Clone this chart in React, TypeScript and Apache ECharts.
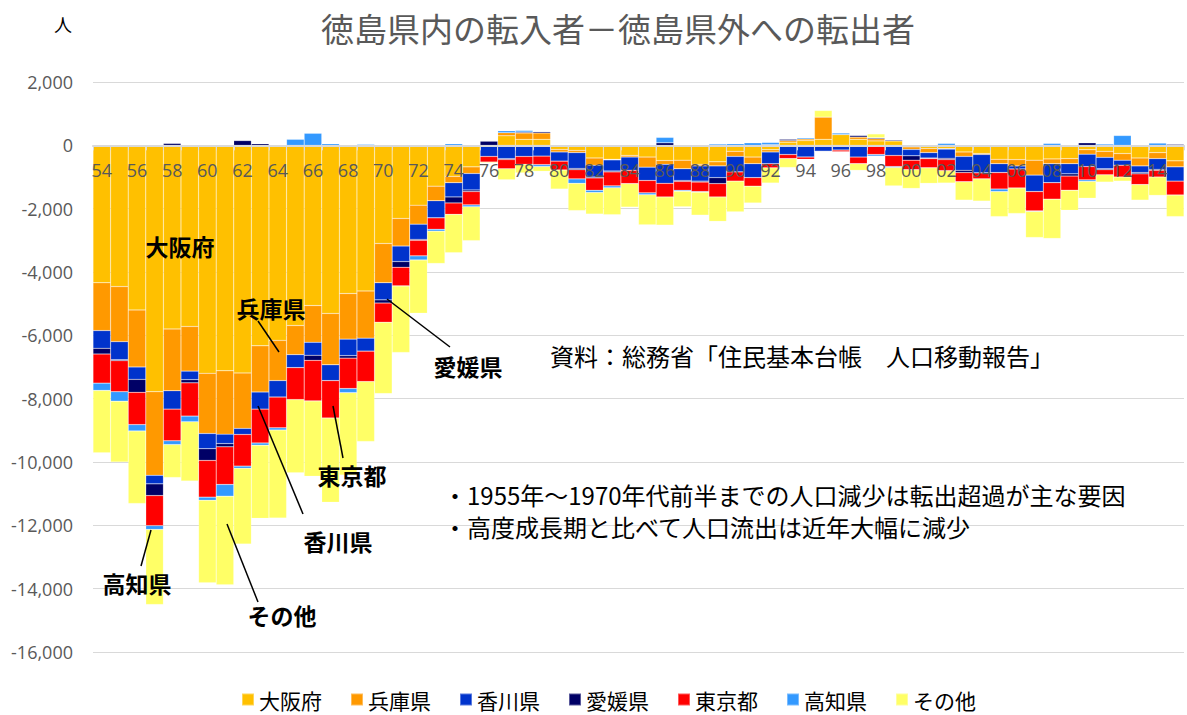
import React, { useEffect, useRef } from "react";
import * as echarts from "echarts";

const years = [
  "54","55","56","57","58","59","60","61","62","63","64","65","66","67","68","69",
  "70","71","72","73","74","75","76","77","78","79","80","81","82","83","84","85",
  "86","87","88","89","90","91","92","93","94","95","96","97","98","99","00","01",
  "02","03","04","05","06","07","08","09","10","11","12","13","14","15",
];

const osaka = [
  -4340,-4460,-5200,-7780,-5800,-5720,-7200,-7120,-7190,-6330,-6160,-5690,-5060,-5310,-4680,-4600,
  -3100,-2310,-1890,-1290,-980,-680,0,300,190,190,-130,-160,-400,-440,-320,-370,
  -480,-470,-600,-520,-190,-370,-140,100,150,190,340,190,140,140,-50,-100,
  -100,-210,-260,-440,-450,-470,-430,-420,-140,-190,-260,-400,-230,-490,
];
const hyogo = [
  -1510,-1740,-1800,-2640,-1950,-1410,-1900,-2000,-1750,-1460,-1270,-920,-1160,-1620,-1440,-1490,
  -1240,-870,-600,-460,-200,-210,0,100,200,200,-80,-70,-230,-20,-50,-320,
  -120,-270,-50,-130,-160,-210,-70,50,50,700,0,70,70,0,-80,-130,
  -20,-140,-30,-140,-200,-470,-150,-160,-140,-190,-210,-250,-190,-190,
];
const kagawa = [
  -560,-570,-390,-270,-580,-270,-480,-300,-190,-540,-520,-410,-410,-500,-520,-410,
  -540,-490,-480,-540,-450,-520,-350,-420,-350,-340,-290,-500,-370,-350,-420,-420,
  -600,-370,-480,-370,-490,-440,-370,-290,-370,-190,-150,-370,0,-320,-200,-170,
  -290,-440,-580,-280,-100,-520,-600,-320,-390,-360,-160,-210,-340,-450,
];
const ehime = [
  -180,-30,-410,-370,60,-100,-370,-100,150,50,0,0,-160,0,-80,0,
  -100,-180,-30,0,-190,-50,130,-30,30,40,0,-40,-30,-30,0,0,
  80,-30,-30,-190,0,0,20,40,0,0,0,50,30,30,-140,-20,
  -40,-70,0,0,0,0,0,-70,80,-30,0,-40,-30,30,
];
const tokyo = [
  -920,-980,-1020,-950,-1000,-1050,-1160,-1190,-1000,-1070,-970,-1010,-1280,-1180,-960,-960,
  -610,-590,-490,-360,-360,-420,-180,-290,-250,-270,-280,-290,-390,-440,-420,-390,
  -430,-280,-300,-420,-290,-270,-130,-130,-70,0,-50,-210,-290,-350,-300,-290,
  -350,-290,-190,-520,-600,-610,-520,-450,-420,-160,-370,-340,-210,-440,
];
const kochi = [
  -230,-300,-200,-120,-120,-180,-100,-370,-70,-70,-70,190,380,50,-130,30,
  0,0,-130,-60,50,-60,0,60,50,-60,0,-140,-70,-60,0,-60,
  170,-30,-20,40,50,80,70,0,40,0,50,0,-50,-30,0,0,
  60,0,0,-80,0,-20,60,0,-50,40,310,0,70,0,
];
const others = [
  -1970,-1920,-2290,-2370,-1040,-1870,-2600,-2800,-2390,-2310,-2780,-2310,-2380,-2660,-2600,-1890,
  -2250,-2100,-1680,-1020,-1210,-1070,-30,-350,-270,-150,-600,-860,-680,-850,-740,-950,
  -890,-490,-725,-770,-970,-530,-480,-280,0,210,0,-210,120,-580,-590,-490,
  -390,-580,-700,-790,-800,-820,-1240,-630,-530,-230,-130,-490,-580,-680,
];

const seriesNames = ["大阪府", "兵庫県", "香川県", "愛媛県", "東京都", "高知県", "その他"];
const seriesData = [osaka, hyogo, kagawa, ehime, tokyo, kochi, others];
const seriesColors = ["#FFC000", "#FF9900", "#0033CC", "#000066", "#FF0000", "#3399FF", "#FFFF66"];

const titleText = "徳島県内の転入者－徳島県外への転出者";
const sourceText = "資料：総務省「住民基本台帳　人口移動報告」";
const note1 = "・1955年～1970年代前半までの人口減少は転出超過が主な要因";
const note2 = "・高度成長期と比べて人口流出は近年大幅に減少";

const JP = '"Noto Sans CJK JP", "Noto Sans", sans-serif';
const NUM = '"Open Sans", "Noto Sans", sans-serif';

export default function App() {
  const ref = useRef<HTMLDivElement>(null);
  useEffect(() => {
    if (!ref.current) return;
    const chart = echarts.init(ref.current, undefined, { renderer: "svg" });

    const labels = [
      { t: "大阪府", x: 180, y: 246 },
      { t: "兵庫県", x: 271, y: 308 },
      { t: "愛媛県", x: 468, y: 366 },
      { t: "東京都", x: 352, y: 475 },
      { t: "香川県", x: 338, y: 541 },
      { t: "高知県", x: 137, y: 583 },
      { t: "その他", x: 282, y: 615 },
    ];
    const leaders = [
      [258, 321, 279, 352],
      [387, 299, 450, 347],
      [333, 406, 343, 458],
      [258, 406, 303, 514],
      [151, 530, 141, 566],
      [227, 524, 258, 602],
    ];

    const graphic: any[] = [];
    graphic.push({
      type: "text",
      left: 54,
      top: 15,
      style: { text: "人", fontSize: 18, fill: "#000", fontFamily: JP },
      z: 100,
    });
    labels.forEach((l) =>
      graphic.push({
        type: "text",
        x: l.x,
        y: l.y,
        style: {
          text: l.t,
          fontSize: 23,
          fontWeight: "bold",
          fill: "#000",
          fontFamily: JP,
          align: "center",
          verticalAlign: "middle",
        },
        z: 100,
      })
    );
    leaders.forEach((p) =>
      graphic.push({
        type: "line",
        shape: { x1: p[0], y1: p[1], x2: p[2], y2: p[3] },
        style: { stroke: "#000", lineWidth: 1.5 },
        z: 100,
      })
    );
    graphic.push({
      type: "text",
      x: 550,
      y: 355,
      style: { text: sourceText, fontSize: 24, fill: "#000", fontFamily: JP, verticalAlign: "middle" },
      z: 100,
    });
    graphic.push({
      type: "text",
      x: 443,
      y: 494,
      style: { text: note1, fontSize: 24, fill: "#000", fontFamily: JP, verticalAlign: "middle" },
      z: 100,
    });
    graphic.push({
      type: "text",
      x: 443,
      y: 526,
      style: { text: note2, fontSize: 24, fill: "#000", fontFamily: JP, verticalAlign: "middle" },
      z: 100,
    });

    const gridLeft = 93;
    const gridRight = 3;
    const gridTop = 82;
    const gridHeight = 570;

    chart.setOption({
      animation: false,
      backgroundColor: "#fff",
      title: {
        text: titleText,
        left: 316,
        top: 6,
        textStyle: { fontSize: 33, fontWeight: "normal", color: "#595959", fontFamily: JP },
      },
      legend: {
        data: seriesNames,
        left: 236,
        bottom: 0,
        icon: "rect",
        itemWidth: 12,
        itemHeight: 12,
        itemGap: 28,
        textStyle: { fontSize: 21, color: "#000", fontFamily: JP },
      },
      grid: [
        { left: gridLeft, right: gridRight, top: gridTop, height: gridHeight },
        { left: gridLeft, right: gridRight, top: gridTop, height: (gridHeight * 2000) / 18000 },
      ],
      xAxis: [
        {
          type: "category",
          gridIndex: 0,
          data: years,
          show: false,
        },
        {
          type: "category",
          gridIndex: 1,
          data: years,
          position: "bottom",
          z: 10,
          axisLine: { show: true, onZero: false, lineStyle: { color: "#d9d9d9", width: 2 } },
          axisTick: { show: true, interval: 0, length: 5, alignWithLabel: false, lineStyle: { color: "#d9d9d9" } },
          axisLabel: { interval: 1, color: "#595959", fontSize: 18, margin: 16, fontFamily: NUM },
        },
      ],
      yAxis: [
        {
          type: "value",
          gridIndex: 0,
          min: -16000,
          max: 2000,
          interval: 2000,
          axisLine: { show: false },
          axisTick: { show: false },
          splitLine: { lineStyle: { color: "#d9d9d9", width: 1 } },
          axisLabel: {
            color: "#595959",
            fontSize: 18,
            margin: 20,
            fontFamily: NUM,
            formatter: (v: number) => v.toLocaleString("en-US"),
          },
        },
        {
          type: "value",
          gridIndex: 1,
          min: 0,
          max: 1,
          show: false,
        },
      ],
      series: seriesNames.map((name, i) => ({
        name,
        type: "bar",
        stack: "total",
        xAxisIndex: 0,
        yAxisIndex: 0,
        barCategoryGap: "0%",
        data: seriesData[i],
        itemStyle: { color: seriesColors[i], borderColor: "rgba(255,255,255,0.35)", borderWidth: 0.5 },
      })),
      graphic,
    });
    return () => chart.dispose();
  }, []);
  return (
    <div
      ref={ref}
      style={{ position: "fixed", left: 0, top: 0, width: 1187, height: 715 }}
    />
  );
}
